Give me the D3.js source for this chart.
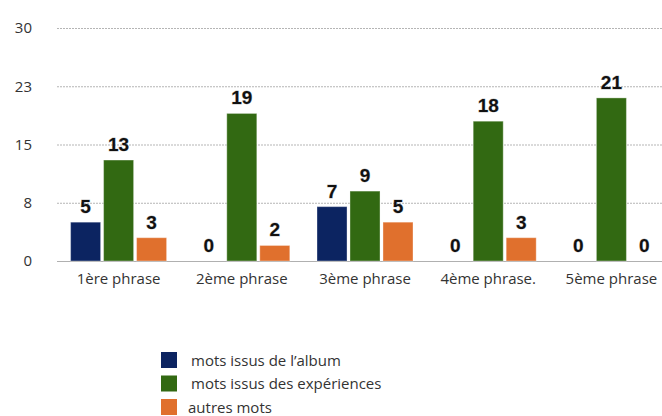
<!DOCTYPE html>
<html><head><meta charset="utf-8">
<script src="https://cdn.jsdelivr.net/npm/d3@7/dist/d3.min.js"></script>
<style>body{margin:0;background:#fff}svg{display:block}</style>
</head><body><svg id="c" width="662" height="416"></svg>
<script>
const categories = ["1ère phrase","2ème phrase","3ème phrase","4ème phrase.","5ème phrase"];
const seriesNames = ["mots issus de l’album","mots issus des expériences","autres mots"];
const album = [5,0,7,0,0];
const experiences = [13,19,9,18,21];
const autres = [3,2,5,3,0];
const tickValues = [0,7.5,15,22.5,30];
const tickLabels = ["0","8","15","23","30"];
const colors = ["#0c2461","#326912","#e0702d"];
const series = [album, experiences, autres];

const svg = d3.select("#c");
const x = d3.scaleBand().domain(categories).range([57,673]).paddingInner(0).paddingOuter(0);
const y = d3.scaleLinear().domain([0,30]).range([261,28]);
const inner = d3.scaleBand().domain(d3.range(3)).range([-48,48]).paddingInner(0.09);
const labelFont = "'Open Sans', Lato, sans-serif";

// gridlines
svg.append("g").selectAll("line").data(tickValues.slice(1)).join("line")
  .attr("x1",57).attr("x2",662).attr("y1",d=>y(d)+0.5).attr("y2",d=>y(d)+0.5)
  .attr("stroke","#b5b5b5").attr("stroke-dasharray","2,1");
// baseline
svg.append("line").attr("x1",57).attr("x2",662).attr("y1",y(0)+0.5).attr("y2",y(0)+0.5)
  .attr("stroke","#b0b0b0").attr("stroke-width",1.2);

// y axis labels
const yAxis = d3.axisLeft(y).tickValues(tickValues).tickFormat((d,i)=>tickLabels[i]).tickSize(0).tickPadding(0);
const ya = svg.append("g").attr("transform","translate(32,0)").call(yAxis);
ya.select(".domain").remove();
ya.selectAll("text").attr("font-family",labelFont).attr("font-size",15).attr("fill","#333");

// x axis labels
const xAxis = d3.axisBottom(x).tickSize(0).tickPadding(0);
const xa = svg.append("g").attr("transform","translate(0,273)").call(xAxis);
xa.select(".domain").remove();
xa.selectAll("text").attr("font-family",labelFont).attr("font-size",15).attr("fill","#333");

// bars
series.forEach((vals,si)=>{
  const g = svg.append("g");
  g.selectAll("rect").data(vals.map((v,i)=>({v,c:categories[i]}))).join("rect")
    .filter(d=>d.v>0)
    .attr("x",d=>x(d.c)+x.bandwidth()/2+inner(si))
    .attr("y",d=>y(d.v))
    .attr("width",inner.bandwidth())
    .attr("height",d=>y(0)-y(d.v))
    .attr("fill",colors[si])
    .attr("stroke","rgba(255,255,255,0.35)").attr("stroke-width",1);
  g.selectAll("text").data(vals.map((v,i)=>({v,c:categories[i]}))).join("text")
    .attr("x",d=>x(d.c)+x.bandwidth()/2+inner(si)+inner.bandwidth()/2)
    .attr("y",d=>y(d.v)-9)
    .attr("text-anchor","middle")
    .attr("font-family","'Liberation Sans', Arial, sans-serif").attr("font-weight","bold")
    .attr("font-size",19).attr("fill","#111")
    .attr("stroke","rgba(150,150,150,0.6)").attr("stroke-width",0.8).attr("paint-order","stroke")
    .text(d=>d.v);
});

// legend
const leg = svg.append("g");
seriesNames.forEach((n,i)=>{
  leg.append("rect").attr("x",161).attr("y",352+i*23.5).attr("width",16).attr("height",16).attr("fill",colors[i]);
  leg.append("text").attr("x",i===2?188:191).attr("y",360.5+i*23.5).attr("dy","0.35em")
    .attr("font-family",labelFont).attr("font-size",15).attr("fill","#333").text(n);
});
</script></body></html>
